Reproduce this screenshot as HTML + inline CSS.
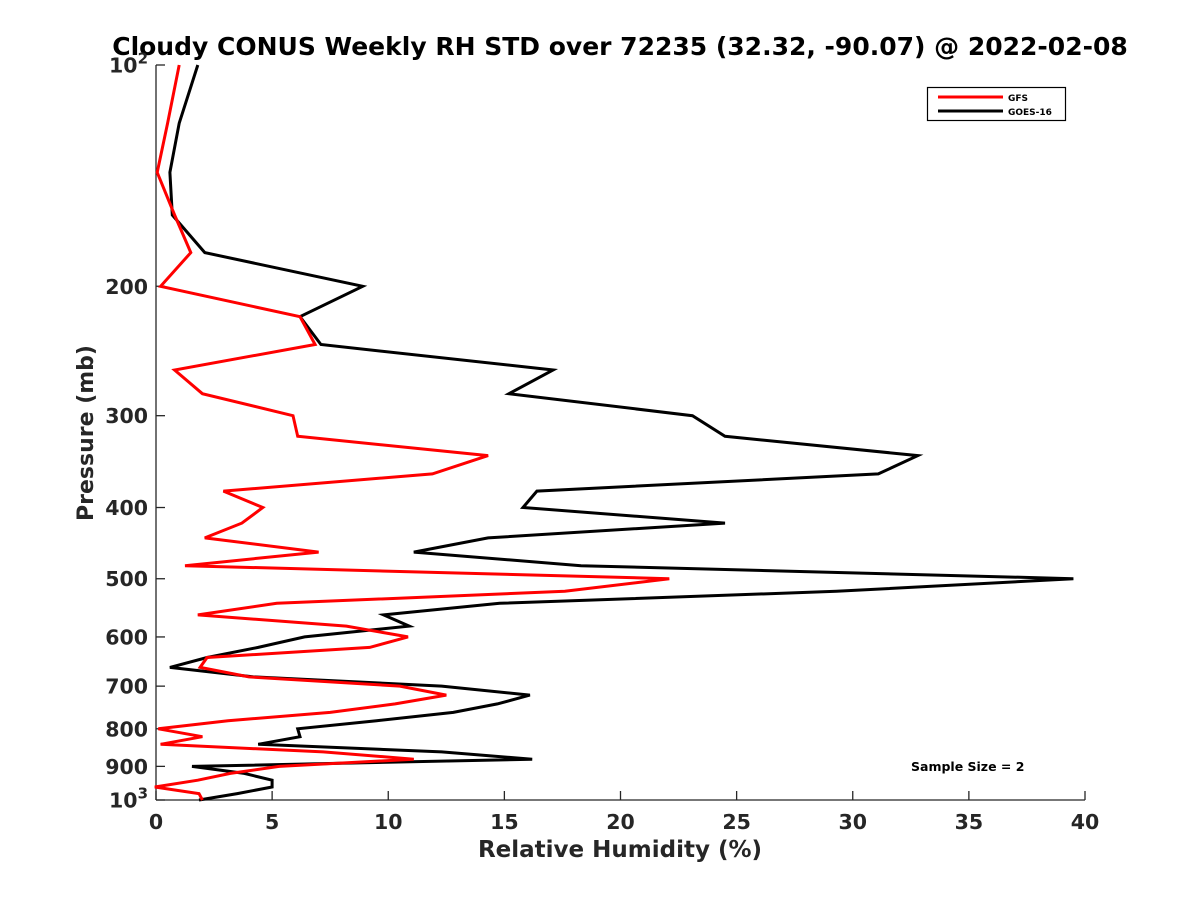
<!DOCTYPE html>
<html><head><meta charset="utf-8"><style>
html,body{margin:0;padding:0;background:#fff;}
svg{display:block;font-family:"DejaVu Sans","Liberation Sans",sans-serif;}
</style></head><body>
<svg id="chart" width="1200" height="900" viewBox="0 0 1200 900">
<text x="620" y="55" text-anchor="middle" font-size="25" font-weight="bold" fill="#000">Cloudy CONUS Weekly RH STD over 72235 (32.32, -90.07) @ 2022-02-08</text>
<g id="axes"></g>
<g id="series"></g>
<text x="620" y="857" text-anchor="middle" font-size="23" font-weight="bold" fill="#262626">Relative Humidity (%)</text>
<text transform="translate(93,433) rotate(-90)" text-anchor="middle" font-size="22" font-weight="bold" fill="#262626">Pressure (mb)</text>
<text x="911" y="771" font-size="12.5" font-weight="bold" fill="#000">Sample Size = 2</text>
<g>
<rect x="927.5" y="87.5" width="138" height="33" fill="#fff" stroke="#000" stroke-width="1.2"/>
<line x1="938" y1="97" x2="1003" y2="97" stroke="#ff0000" stroke-width="3"/>
<text x="1008" y="101" font-size="9" font-weight="bold">GFS</text>
<line x1="938" y1="111" x2="1003" y2="111" stroke="#000" stroke-width="3"/>
<text x="1008" y="115" font-size="9" font-weight="bold">GOES-16</text>
</g>
</svg>
<script>
const pressures = [100,120,140,160,180,200,220,240,260,280,300,320,340,360,380,400,420,440,460,480,500,520,540,560,580,600,620,640,660,680,700,720,740,760,780,800,820,840,860,880,900,920,940,960,980,1000];
const gfsValues = [1.0,0.5,0.05,0.8,1.5,0.2,6.2,6.85,0.8,2.0,5.9,6.1,14.3,11.9,2.9,4.6,3.7,2.1,7.0,1.25,22.1,17.6,5.2,1.8,8.2,10.85,9.2,2.2,1.9,4.0,10.5,12.5,10.3,7.5,3.1,0.1,2.0,0.2,7.2,11.1,5.3,3.2,1.8,-0.05,1.85,2.0];
const goesValues = [1.8,1.0,0.6,0.7,2.1,8.9,6.2,7.1,17.1,15.2,23.1,24.5,32.8,31.1,16.4,15.8,24.5,14.3,11.1,18.3,39.5,29.3,14.8,9.8,10.9,6.4,4.4,2.2,0.6,4.2,12.3,16.1,14.7,12.8,9.5,6.1,6.2,4.4,12.3,16.2,1.55,3.8,5.0,5.0,3.5,1.85];
const xTicks = [0,5,10,15,20,25,30,35,40];
const yTicks = [100,200,300,400,500,600,700,800,900,1000];
const yTickLabels = ["10^2","200","300","400","500","600","700","800","900","10^3"];

const NS="http://www.w3.org/2000/svg";
const X0=156,X1=1085,Y0=65,Y1=800,XMAX=40;
function xs(v){return X0+(v/XMAX)*(X1-X0);}
function ys(p){return Y0+(Math.log10(p)-2)*(Y1-Y0);}
function mk(tag,attrs,parent){const e=document.createElementNS(NS,tag);for(const k in attrs)e.setAttribute(k,attrs[k]);parent.appendChild(e);return e;}
const axes=document.getElementById('axes');
const C="#262626";
let l=mk('line',{x1:X0,y1:Y0,x2:X0,y2:Y1,stroke:C,'stroke-width':1.3},axes);


l=mk('line',{x1:X0,y1:Y1,x2:X1,y2:Y1,stroke:C,'stroke-width':1.3},axes);


xTicks.forEach(t=>{
  const x=xs(t);
  const tk=mk('line',{x1:x,y1:Y1,x2:x,y2:Y1-9,stroke:C,'stroke-width':1.3},axes);
  
  
  const tx=mk('text',{x:x,y:Y1+29,'text-anchor':'middle','font-size':20.5,'font-weight':'bold',fill:C},axes);
  tx.textContent=t;
  
  
});
yTicks.forEach((p,i)=>{
  const y=ys(p);
  const tk=mk('line',{x1:X0,y1:y,x2:X0+9,y2:y,stroke:C,'stroke-width':1.3},axes);
  
  
  const lab=yTickLabels[i];
  const tx=mk('text',{x:X0-8,y:y+7.5,'text-anchor':'end','font-size':20.5,'font-weight':'bold',fill:C},axes);
  if(lab.indexOf('^')>=0){
    const parts=lab.split('^');
    tx.textContent=parts[0];
    const s=document.createElementNS(NS,'tspan');
    s.setAttribute('dy','-9');s.setAttribute('font-size','15');
    s.textContent=parts[1];
    tx.appendChild(s);
    tx.setAttribute('x',X0-8);
  } else tx.textContent=lab;
  
  
});
const sg=document.getElementById('series');
function line(vals,color,name){
  const pts=vals.map((v,i)=>xs(v).toFixed(1)+','+ys(pressures[i]).toFixed(1)).join(' ');
  const pl=mk('polyline',{points:pts,fill:'none',stroke:color,'stroke-width':3,'stroke-linejoin':'miter'},sg);
  
  
}
line(goesValues,'#000000','goes16-line');
line(gfsValues,'#ff0000','gfs-line');
</script>
</body></html>
